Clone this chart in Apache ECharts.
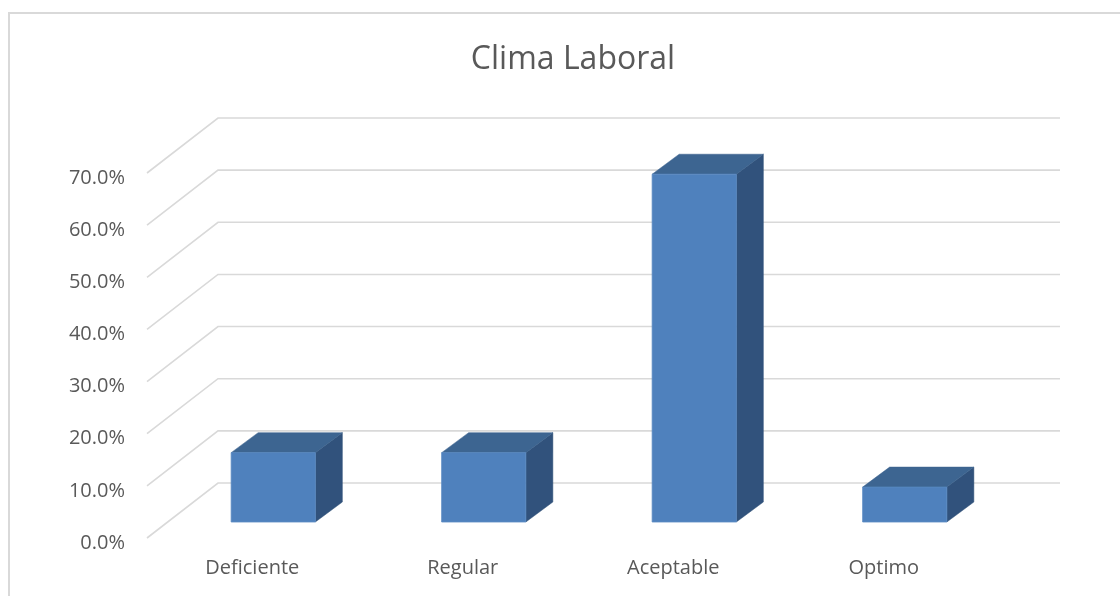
<!DOCTYPE html>
<html>
<head>
<meta charset="utf-8">
<script src="https://cdn.jsdelivr.net/npm/echarts@6/dist/echarts.min.js"></script>
<style>html,body{margin:0;padding:0;background:#fff}#c{width:1120px;height:596px}</style>
</head>
<body>
<div id="c"></div>
<script>
const categories = ['Deficiente', 'Regular', 'Aceptable', 'Optimo'];
const values = [13.3, 13.3, 66.7, 6.7];
const yTicks = [0, 10, 20, 30, 40, 50, 60, 70];

const FONT = '"Open Sans", Lato, sans-serif';
const DEPTH_X = 71, DEPTH_Y = -55;     // wall depth
const BAR_OFF_X = 21, BAR_OFF_Y = -16; // bar front-face offset
const BAR_DX = 27, BAR_DY = -20;       // bar depth
const BAR_W = 0.4;

const chart = echarts.init(document.getElementById('c'), null, {renderer: 'canvas'});

chart.setOption({
  animation: false,
  title: {
    text: 'Clima Laboral',
    left: 568, top: 39, textAlign: 'center',
    textStyle: {fontFamily: FONT, fontSize: 32, fontWeight: 'normal', color: '#595959'}
  },
  graphic: [{
    type: 'rect', shape: {x: 9, y: 13, width: 1300, height: 800},
    style: {fill: 'none', stroke: '#d9d9d9', lineWidth: 2}, silent: true
  }],
  grid: {left: 147, right: 131, top: 173, bottom: 58},
  xAxis: {
    type: 'category', data: categories,
    axisLine: {show: false}, axisTick: {show: false},
    axisLabel: {margin: 20, color: '#595959', fontSize: 20, fontFamily: FONT}
  },
  yAxis: {
    type: 'value', min: 0, max: 70, interval: 10,
    axisLine: {show: false}, axisTick: {show: false}, splitLine: {show: false},
    axisLabel: {margin: 22, color: '#595959', fontSize: 20, fontFamily: FONT,
      verticalAlign: 'top', lineHeight: 10,
      formatter: v => v.toFixed(1) + '%'}
  },
  series: [
    {
      type: 'custom', z: 1, silent: true,
      data: yTicks.map(v => [0, v]),
      renderItem: function (params, api) {
        const cs = params.coordSys;
        const y = api.coord([0, api.value(1)])[1];
        const x0 = cs.x, x1 = cs.x + cs.width;
        return {
          type: 'polyline',
          shape: {points: [[x0, y], [x0 + DEPTH_X, y + DEPTH_Y], [x1 + DEPTH_X, y + DEPTH_Y]]},
          style: {stroke: '#d9d9d9', lineWidth: 1.6, fill: null}
        };
      }
    },
    {
      type: 'custom', z: 2,
      data: values.map((v, i) => [i, v]),
      renderItem: function (params, api) {
        const top = api.coord([api.value(0), api.value(1)]);
        const base = api.coord([api.value(0), 0]);
        const bw = api.size([1, 0])[0] * BAR_W;
        const xl = top[0] - bw / 2 + BAR_OFF_X, xr = top[0] + bw / 2 + BAR_OFF_X;
        const yt = top[1] + BAR_OFF_Y, yb = base[1] + BAR_OFF_Y;
        return {
          type: 'group',
          children: [
            {type: 'polygon', shape: {points: [[xr, yt], [xr + BAR_DX, yt + BAR_DY], [xr + BAR_DX, yb + BAR_DY], [xr, yb]]},
              style: {fill: '#31527c', stroke: '#2f5077', lineWidth: 0.5}},
            {type: 'polygon', shape: {points: [[xl, yt], [xl + BAR_DX, yt + BAR_DY], [xr + BAR_DX, yt + BAR_DY], [xr, yt]]},
              style: {fill: '#3d6591', stroke: '#3a618c', lineWidth: 0.5}},
            {type: 'rect', shape: {x: xl, y: yt, width: xr - xl, height: yb - yt},
              style: {fill: '#4f81bd', stroke: '#5b8ac3', lineWidth: 0.8}}
          ]
        };
      }
    }
  ]
});
</script>
</body>
</html>
